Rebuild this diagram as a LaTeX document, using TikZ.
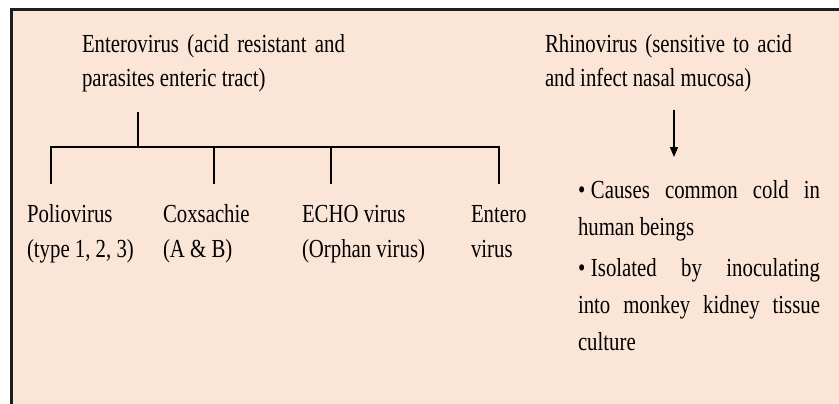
\documentclass[tikz,border=0pt]{standalone}
\usepackage{fontspec}
\setmainfont{Liberation Serif}[FakeStretch=0.8]
\usepackage{tikz}
\usetikzlibrary{arrows.meta, positioning}
\definecolor{peach}{HTML}{FBE5D6}
\definecolor{boxline}{HTML}{1E1E1E}

\begin{document}
\begin{tikzpicture}[x=0.5pt, y=-0.5pt,
    every node/.style={inner sep=0pt, outer sep=0pt, font=\fontsize{13}{17}\selectfont},
    heading/.style={anchor=base west, align=justify},
    virus/.style={anchor=base west, text width=70pt, align=justify, font=\fontsize{13}{17.5}\selectfont},
    pointitem/.style={anchor=base west, text width=121pt, align=justify, font=\fontsize{13}{18.5}\selectfont},
    treeline/.style={line width=1.25pt, draw=black},
    downarrow/.style={line width=0.8pt, -{Triangle[length=5pt, width=4pt]}}]

    % Page and background box
    \useasboundingbox (0,0) rectangle (839,403);
    \clip (0,0) rectangle (839,403);
    \fill[white] (0,0) rectangle (839,403);
    \draw[fill=peach, draw=boxline, line width=1.5pt] (11.5,9) rectangle (870,430);

    % Nodes for the two groups
    \node (entero) [heading, text width=131.5pt] at (82,52) {Enterovirus (acid resistant and\linebreak parasites enteric tract)};
    \node (rhino) [heading, text width=123.5pt] at (545,52) {Rhinovirus (sensitive to acid\linebreak and infect nasal mucosa)};

    % Nodes for the enterovirus types
    \node (polio) [virus] at (27,222) {Poliovirus\par (type 1, 2, 3)};
    \node (coxsachie) [virus] at (163,222) {Coxsachie\par (A \& B)};
    \node (echo) [virus] at (302,222) {ECHO virus\par (Orphan virus)};
    \node (enterovirus) [virus] at (471,222) {Entero\par virus};

    % Points about rhinovirus
    \node (cold) [pointitem] at (578,198) {\hangindent=6.5pt\hangafter=1\makebox[6.5pt][l]{\textbullet}Causes common cold in\linebreak human beings};
    \node (isolated) [pointitem] at (578,276) {\hangindent=6.5pt\hangafter=1\makebox[6.5pt][l]{\textbullet}Isolated by inoculating\linebreak into monkey kidney tissue\linebreak culture};

    % Tree under enterovirus
    \coordinate (stemTop) at (138,112);
    \coordinate (stemBot) at (138,147);
    \coordinate (barLeft) at (51,147);
    \coordinate (barRight) at (499,147);
    \draw[treeline] (stemTop) -- (stemBot);
    \draw[treeline, line cap=rect] (barLeft) -- (barRight);
    \foreach \x/\name in {51/polio, 214/coxsachie, 331/echo, 499/enterovirus} {
        \coordinate (\name Top) at (\x,184);
        \draw[treeline] (\x,147) -- (\name Top);
    }

    % Arrow under rhinovirus
    \coordinate (arrowStart) at (674,110);
    \coordinate (arrowEnd) at (674,157);
    \draw[downarrow] (arrowStart) -- (arrowEnd);

\end{tikzpicture}
\end{document}
